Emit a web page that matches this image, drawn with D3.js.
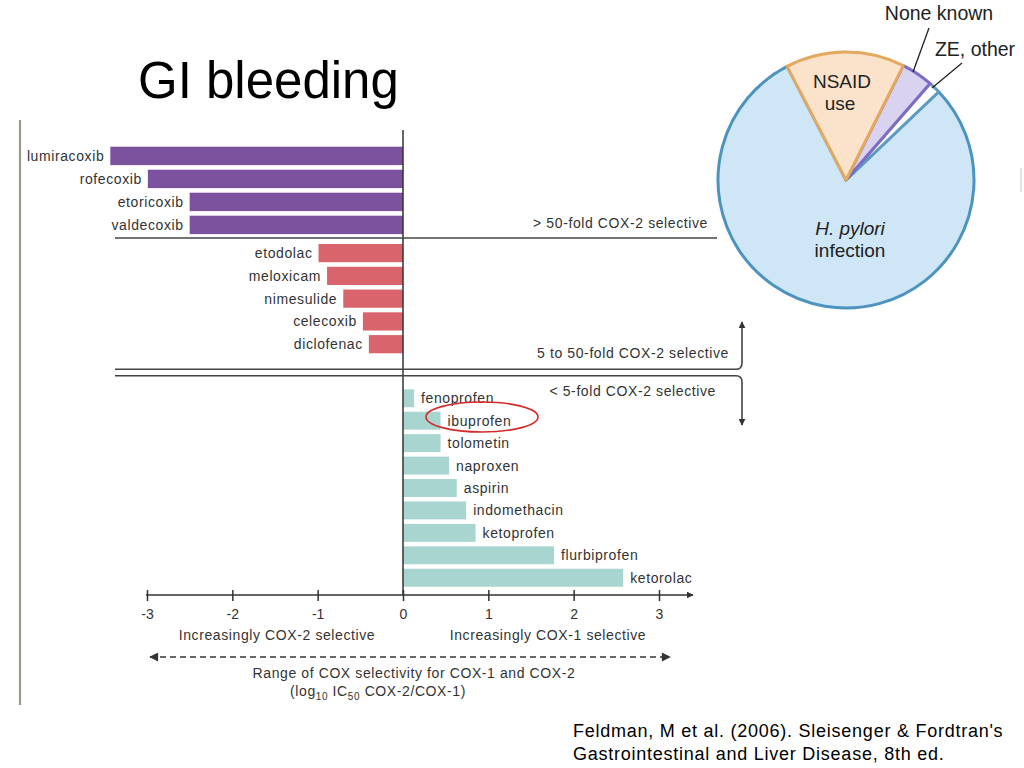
<!DOCTYPE html>
<html>
<head>
<meta charset="utf-8">
<script src="https://cdn.jsdelivr.net/npm/d3@7"></script>
<style>
  html, body { margin: 0; padding: 0; background: #fff; }
  svg { display: block; font-family: "Liberation Sans", Arial, Helvetica, sans-serif; }
</style>
</head>
<body>
<svg id="chart" width="1024" height="768"></svg>
<script>
// ---------- DATA ----------
const coxib2Names = ["lumiracoxib", "rofecoxib", "etoricoxib", "valdecoxib"];
const coxib2Values = [-3.43, -2.99, -2.50, -2.50];

const midNames = ["etodolac", "meloxicam", "nimesulide", "celecoxib", "diclofenac"];
const midValues = [-0.99, -0.89, -0.70, -0.47, -0.40];

const lowNames = ["fenoprofen", "ibuprofen", "tolometin", "naproxen", "aspirin", "indomethacin", "ketoprofen", "flurbiprofen", "ketorolac"];
const lowValues = [0.13, 0.44, 0.44, 0.54, 0.63, 0.74, 0.85, 1.77, 2.58];

const tickValues = [-3, -2, -1, 0, 1, 2, 3];
const tickLabels = ["-3", "-2", "-1", "0", "1", "2", "3"];

const groupLabels = ["> 50-fold COX-2 selective", "5 to 50-fold COX-2 selective", "< 5-fold COX-2 selective"];

const pieNames = ["NSAID use", "None known", "ZE, other", "H. pylori infection"];
const pieValues = [15, 4, 1.5, 79.5];

// ---------- SETUP ----------
const svg = d3.select("#chart");
const textColor = "#333";
const fontSize = 14;
const letterSp = 0.6;

// Title
svg.append("text").attr("x", 138).attr("y", 98)
  .attr("font-size", 51).attr("fill", "#000").text("GI bleeding");

// left slide rule
svg.append("line").attr("x1", 20).attr("x2", 20).attr("y1", 120).attr("y2", 705)
  .attr("stroke", "#9a978c").attr("stroke-width", 2.2);
svg.append("line").attr("x1", 1021).attr("x2", 1021).attr("y1", 168).attr("y2", 192)
  .attr("stroke", "#ddd").attr("stroke-width", 1.5);

// x scale
const x = d3.scaleLinear().domain([-3, 3]).range([147, 659]);

// group band scales
const yTop = d3.scaleBand().domain(coxib2Names).range([146.7, 234.1]).paddingInner(0.2).paddingOuter(0);
const yMid = d3.scaleBand().domain(midNames).range([244, 353.3]).paddingInner(0.2).paddingOuter(0);
const yLow = d3.scaleBand().domain(lowNames).range([389.3, 586.7]).paddingInner(0.2).paddingOuter(0);

function drawGroup(names, values, yScale, color) {
  const g = svg.append("g");
  const data = names.map((n, i) => ({ name: n, v: values[i] }));
  g.selectAll("rect").data(data).enter().append("rect")
    .attr("x", d => Math.min(x(0), x(d.v)))
    .attr("width", d => Math.abs(x(d.v) - x(0)))
    .attr("y", d => yScale(d.name))
    .attr("height", yScale.bandwidth())
    .attr("fill", color);
  g.selectAll("text").data(data).enter().append("text")
    .attr("x", d => d.v < 0 ? x(d.v) - 6 : x(d.v) + 7)
    .attr("y", d => yScale(d.name) + yScale.bandwidth() / 2)
    .attr("dy", "0.36em")
    .attr("text-anchor", d => d.v < 0 ? "end" : "start")
    .attr("font-size", fontSize)
    .attr("letter-spacing", letterSp)
    .attr("fill", textColor)
    .text(d => d.name);
}

drawGroup(coxib2Names, coxib2Values, yTop, "#7c519d");
drawGroup(midNames, midValues, yMid, "#d9646c");
drawGroup(lowNames, lowValues, yLow, "#a8d5cf");

// zero line
svg.append("line").attr("x1", x(0)).attr("x2", x(0)).attr("y1", 130).attr("y2", 595)
  .attr("stroke", "#333").attr("stroke-width", 1.5);

// divider lines
svg.append("line").attr("x1", 115).attr("x2", 717).attr("y1", 238).attr("y2", 238)
  .attr("stroke", "#444").attr("stroke-width", 1.6);

// defs arrowheads
const defs = svg.append("defs");
defs.append("marker").attr("id", "arr").attr("viewBox", "0 0 10 10")
  .attr("refX", 9).attr("refY", 5).attr("markerWidth", 7).attr("markerHeight", 7)
  .attr("markerUnits", "userSpaceOnUse").attr("orient", "auto")
  .append("path").attr("d", "M0,0 L10,5 L0,10 z").attr("fill", "#333");
defs.append("marker").attr("id", "arr2").attr("viewBox", "0 0 10 10")
  .attr("refX", 9).attr("refY", 5).attr("markerWidth", 10).attr("markerHeight", 9)
  .attr("markerUnits", "userSpaceOnUse").attr("orient", "auto-start-reverse")
  .append("path").attr("d", "M0,0 L10,5 L0,10 z").attr("fill", "#333");

// double line with bracket arrows
svg.append("path")
  .attr("d", "M115,369.3 L736,369.3 Q742,369.3 742,363 L742,322")
  .attr("fill", "none").attr("stroke", "#444").attr("stroke-width", 1.6)
  .attr("marker-end", "url(#arr)");
svg.append("path")
  .attr("d", "M115,375.7 L736,375.7 Q742,375.7 742,382 L742,425")
  .attr("fill", "none").attr("stroke", "#444").attr("stroke-width", 1.6)
  .attr("marker-end", "url(#arr)");

// group labels
const glPos = [[708, 228], [729, 358], [716, 396]];
groupLabels.forEach((t, i) => {
  svg.append("text").attr("x", glPos[i][0]).attr("y", glPos[i][1])
    .attr("text-anchor", "end").attr("font-size", fontSize).attr("letter-spacing", letterSp)
    .attr("fill", textColor).text(t);
});

// ibuprofen ellipse
svg.append("ellipse").attr("cx", 482).attr("cy", 417).attr("rx", 56).attr("ry", 15)
  .attr("fill", "none").attr("stroke", "#d42a2a").attr("stroke-width", 1.6);

// x axis
const axisY = 595;
svg.append("line").attr("x1", 146).attr("x2", 693).attr("y1", axisY).attr("y2", axisY)
  .attr("stroke", "#333").attr("stroke-width", 1.5).attr("marker-end", "url(#arr)");
const axis = d3.axisBottom(x).tickValues(tickValues)
  .tickFormat((d, i) => tickLabels[i]).tickSize(6).tickPadding(8);
const ag = svg.append("g").attr("transform", `translate(0,${axisY})`).call(axis);
ag.select(".domain").remove();
ag.selectAll(".tick line").attr("y1", -5).attr("y2", 6).attr("stroke", "#333").attr("stroke-width", 1.5);
ag.selectAll(".tick text").attr("font-size", fontSize).attr("fill", textColor)
  .attr("font-family", "Liberation Sans, Arial, sans-serif");

// axis descriptions
svg.append("text").attr("x", 277).attr("y", 640).attr("text-anchor", "middle")
  .attr("font-size", fontSize).attr("letter-spacing", letterSp).attr("fill", textColor)
  .text("Increasingly COX-2 selective");
svg.append("text").attr("x", 548).attr("y", 640).attr("text-anchor", "middle")
  .attr("font-size", fontSize).attr("letter-spacing", letterSp).attr("fill", textColor)
  .text("Increasingly COX-1 selective");

// dashed double arrow
svg.append("line").attr("x1", 150).attr("x2", 670).attr("y1", 657).attr("y2", 657)
  .attr("stroke", "#333").attr("stroke-width", 1.5).attr("stroke-dasharray", "6,4")
  .attr("marker-start", "url(#arr2)").attr("marker-end", "url(#arr2)");

svg.append("text").attr("x", 414).attr("y", 678).attr("text-anchor", "middle")
  .attr("font-size", fontSize).attr("letter-spacing", letterSp).attr("fill", textColor)
  .text("Range of COX selectivity for COX-1 and COX-2");
const lt = svg.append("text").attr("x", 378).attr("y", 696).attr("text-anchor", "middle")
  .attr("font-size", fontSize).attr("letter-spacing", letterSp).attr("fill", textColor);
lt.append("tspan").text("(log");
lt.append("tspan").attr("font-size", 10).attr("dy", 4).text("10");
lt.append("tspan").attr("dy", -4).text(" IC");
lt.append("tspan").attr("font-size", 10).attr("dy", 4).text("50");
lt.append("tspan").attr("dy", -4).text(" COX-2/COX-1)");

// citation
svg.append("text").attr("x", 573).attr("y", 737).attr("font-size", 18).attr("letter-spacing", 0.75).attr("fill", "#000")
  .text("Feldman, M et al. (2006). Sleisenger & Fordtran's");
svg.append("text").attr("x", 573).attr("y", 760).attr("font-size", 18).attr("letter-spacing", 0.75).attr("fill", "#000")
  .text("Gastrointestinal and Liver Disease, 8th ed.");

// ---------- PIE ----------
const cx = 846, cy = 180, r = 128;
const startA = -27.4 * Math.PI / 180;
const pie = d3.pie().sort(null).value(d => d).startAngle(startA).endAngle(startA + 2 * Math.PI);
const arcs = pie(pieValues);
const arc = d3.arc().innerRadius(0).outerRadius(r);
const fills = ["#fbe3cb", "#d9d2f0", "#ffffff", "#cfe6f7"];
const strokes = ["#e3a95f", "#7e6cc4", "#5b9bc4", "#4d93bf"];
const pg = svg.append("g").attr("transform", `translate(${cx},${cy})`);
// draw H. pylori first so others overlay
const order = [3, 2, 1, 0];
order.forEach(i => {
  pg.append("path").attr("d", arc(arcs[i]))
    .attr("fill", fills[i]).attr("stroke", strokes[i]).attr("stroke-width", 3)
    .attr("stroke-linejoin", "round");
});

// pie labels
svg.append("text").attr("x", 842).attr("y", 88).attr("text-anchor", "middle")
  .attr("font-size", 19).attr("fill", "#222").text("NSAID");
svg.append("text").attr("x", 840).attr("y", 110).attr("text-anchor", "middle")
  .attr("font-size", 19).attr("fill", "#222").text("use");
svg.append("text").attr("x", 850).attr("y", 235).attr("text-anchor", "middle")
  .attr("font-size", 19).attr("font-style", "italic").attr("fill", "#222").text("H. pylori");
svg.append("text").attr("x", 850).attr("y", 257).attr("text-anchor", "middle")
  .attr("font-size", 19).attr("fill", "#222").text("infection");
svg.append("text").attr("x", 939).attr("y", 20).attr("text-anchor", "middle")
  .attr("font-size", 19.5).attr("fill", "#222").text("None known");
svg.append("text").attr("x", 975).attr("y", 56).attr("text-anchor", "middle")
  .attr("font-size", 19.5).attr("fill", "#222").text("ZE, other");
svg.append("line").attr("x1", 929).attr("y1", 28).attr("x2", 913).attr("y2", 72)
  .attr("stroke", "#222").attr("stroke-width", 1.3);
svg.append("line").attr("x1", 962).attr("y1", 63).attr("x2", 932).attr("y2", 88)
  .attr("stroke", "#222").attr("stroke-width", 1.3);
</script>
</body>
</html>
